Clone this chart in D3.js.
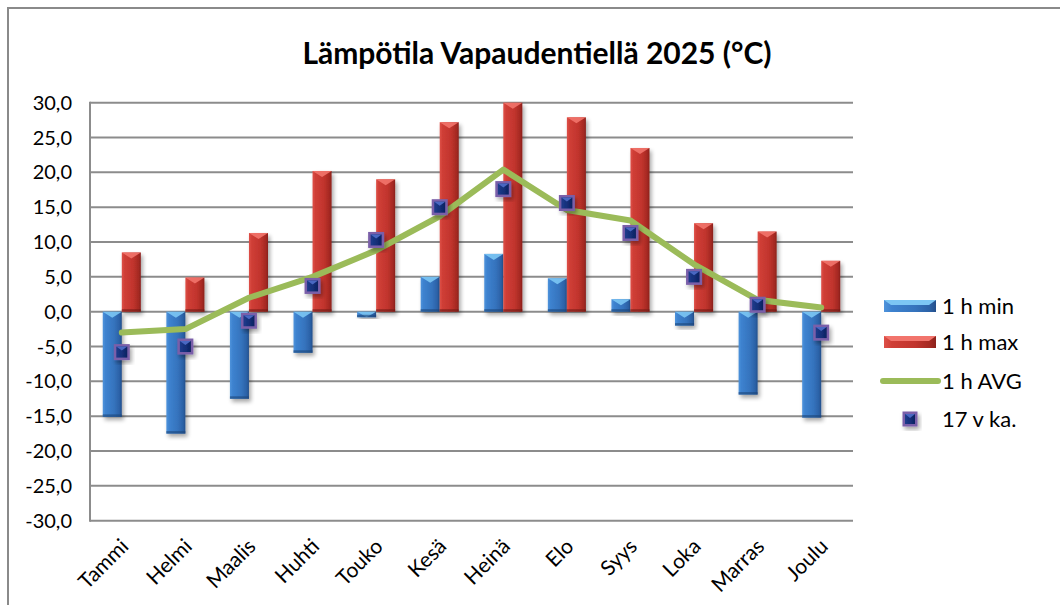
<!DOCTYPE html>
<html>
<head>
<meta charset="utf-8">
<script src="https://cdn.jsdelivr.net/npm/d3@7"></script>
<style>
  html, body { margin: 0; padding: 0; background: #fff; }
  svg { display: block; font-family: Lato, "Open Sans", sans-serif; }
</style>
</head>
<body>
<svg id="chart" width="1060" height="605"></svg>
<script>
// Monthly temperatures (°C)
const months = ["Tammi", "Helmi", "Maalis", "Huhti", "Touko", "Kesä", "Heinä", "Elo", "Syys", "Loka", "Marras", "Joulu"];
const minTemp = [-15.1, -17.5, -12.5, -5.9, -0.8, 5.0, 8.3, 4.8, 1.8, -2.0, -11.9, -15.2];
const maxTemp = [8.5, 4.9, 11.3, 20.2, 19.0, 27.2, 30.0, 27.9, 23.5, 12.7, 11.5, 7.3];
const avgTemp = [-3.0, -2.5, 2.0, 5.0, 8.8, 13.7, 20.4, 14.6, 13.1, 6.8, 1.7, 0.6];
const longAvg = [-5.8, -5.0, -1.3, 3.7, 10.3, 15.0, 17.6, 15.6, 11.3, 5.0, 1.0, -3.0];
const yTicks = [30, 25, 20, 15, 10, 5, 0, -5, -10, -15, -20, -25, -30];
const seriesNames = ["1 h min", "1 h max", "1 h AVG", "17 v ka."];
const titleText = "Lämpötila Vapaudentiellä 2025 (°C)";

const svg = d3.select("#chart");
const plot = { left: 90, right: 853, top: 102.7, bottom: 520.7 };

const fi = d3.formatLocale({ decimal: ",", thousands: " ", grouping: [3], currency: ["", "€"], minus: "-" });
const fmt = fi.format(".1f");

const x = d3.scaleBand().domain(months).range([plot.left, plot.right]).padding(0);
const xs = d3.scaleBand().domain(["min", "max"]).range([0, x.bandwidth()]).paddingInner(0).paddingOuter(0.67);
const y = d3.scaleLinear().domain([-30, 30]).range([plot.bottom, plot.top]);

// gradients and shadow
const defs = svg.append("defs");
function hGrad(id, stops) {
  const g = defs.append("linearGradient").attr("id", id).attr("x1", 0).attr("x2", 1).attr("y1", 0).attr("y2", 0);
  stops.forEach(([o, c]) => g.append("stop").attr("offset", o).attr("stop-color", c));
}
hGrad("gBlue", [[0, "#4f93db"], [0.15, "#3d82cf"], [0.6, "#3573bd"], [0.88, "#2b61a6"], [1, "#244f8a"]]);
hGrad("gRed", [[0, "#de5048"], [0.15, "#cf3e36"], [0.6, "#c1342d"], [0.88, "#a52922"], [1, "#8a211c"]]);
hGrad("gNavy", [[0, "#1f3b8c"], [0.5, "#14307a"], [1, "#0d2260"]]);
const sh = defs.append("filter").attr("id", "shadow").attr("x", "-30%").attr("y", "-30%").attr("width", "160%").attr("height", "160%");
sh.append("feGaussianBlur").attr("in", "SourceAlpha").attr("stdDeviation", 2);
sh.append("feOffset").attr("dx", 1.5).attr("dy", 3).attr("result", "o");
sh.append("feComponentTransfer").append("feFuncA").attr("type", "linear").attr("slope", 0.35);
const m = sh.append("feMerge");
m.append("feMergeNode");
m.append("feMergeNode").attr("in", "SourceGraphic");

// outer frame
svg.append("rect").attr("x", 8).attr("y", 8).attr("width", 1200).attr("height", 800)
  .attr("fill", "none").attr("stroke", "#8a8a8a").attr("stroke-width", 2);

// title
svg.append("text").attr("x", 537).attr("y", 64).attr("text-anchor", "middle")
  .attr("font-size", 30).attr("font-weight", 700).attr("fill", "#000").text(titleText);

// gridlines
svg.append("g").selectAll("line").data(yTicks).join("line")
  .attr("x1", plot.left).attr("x2", plot.right)
  .attr("y1", d => y(d)).attr("y2", d => y(d))
  .attr("stroke", "#8c8c8c").attr("stroke-width", 2);
svg.append("line").attr("x1", plot.left).attr("x2", plot.left)
  .attr("y1", plot.top - 1).attr("y2", plot.bottom + 1)
  .attr("stroke", "#8c8c8c").attr("stroke-width", 2);

// y labels
svg.append("g").selectAll("text").data(yTicks).join("text")
  .attr("x", 72).attr("y", d => y(d)).attr("dy", "0.35em").attr("text-anchor", "end")
  .attr("font-size", 20).attr("fill", "#000").text(d => fmt(d));

// x labels
svg.append("g").selectAll("text").data(months).join("text")
  .attr("transform", d => `translate(${x(d) + x.bandwidth() / 2 + 8},${plot.bottom + 27}) rotate(-45)`)
  .attr("text-anchor", "end").attr("font-size", 21).attr("fill", "#000").text(d => d);

// bevelled bar
function bar(g, x0, w, v, fill, light, dark) {
  const yt = y(Math.max(0, v)), yb = y(Math.min(0, v));
  const h = yb - yt;
  const grp = g.append("g").attr("filter", "url(#shadow)");
  grp.append("rect").attr("x", x0).attr("y", yt).attr("width", w).attr("height", h).attr("fill", fill);
  const th = Math.min(6, h);
  grp.append("path").attr("d", `M${x0},${yt}L${x0 + w},${yt}L${x0 + w / 2},${yt + th}Z`).attr("fill", light).attr("opacity", 0.9);
  const bh = Math.min(2.5, h);
  grp.append("rect").attr("x", x0).attr("y", yb - bh).attr("width", w).attr("height", bh).attr("fill", dark).attr("opacity", 0.6);
}
const bars = svg.append("g");
months.forEach((mo, i) => {
  bar(bars, x(mo) + xs("min"), xs.bandwidth(), minTemp[i], "url(#gBlue)", "#7cc6f4", "#1d4577");
  bar(bars, x(mo) + xs("max"), xs.bandwidth(), maxTemp[i], "url(#gRed)", "#f2746c", "#6e1a16");
});

// average line
const cx = d => x(d) + x.bandwidth() / 2;
svg.append("path").datum(avgTemp)
  .attr("d", d3.line().x((d, i) => cx(months[i])).y(d => y(d)))
  .attr("fill", "none").attr("stroke", "#9bbb59").attr("stroke-width", 6)
  .attr("stroke-linecap", "round").attr("stroke-linejoin", "round");

// square markers
function marker(g, mx, my, s) {
  const grp = g.append("g").attr("filter", "url(#shadow)");
  grp.append("rect").attr("x", mx - s / 2).attr("y", my - s / 2).attr("width", s).attr("height", s).attr("fill", "#7a5fa9");
  const i = s / 2 - 2.5;
  grp.append("rect").attr("x", mx - i).attr("y", my - i).attr("width", 2 * i).attr("height", 2 * i).attr("fill", "url(#gNavy)");
  grp.append("path").attr("d", `M${mx - i},${my - i}L${mx + i},${my - i}L${mx},${my - i + 4}Z`).attr("fill", "#4a67c2");
}
const marks = svg.append("g");
longAvg.forEach((v, i) => marker(marks, cx(months[i]), y(v), 16));

// legend
const lg = svg.append("g");
const rows = [306, 342, 381, 419];
lg.append("rect").attr("x", 884).attr("y", 300).attr("width", 52).attr("height", 12).attr("fill", "url(#gBlue)");
lg.append("path").attr("d", "M884,300L936,300L929,305L891,305Z").attr("fill", "#7cc6f4");
lg.append("rect").attr("x", 884).attr("y", 336).attr("width", 52).attr("height", 12).attr("fill", "url(#gRed)");
lg.append("path").attr("d", "M884,336L936,336L929,341L891,341Z").attr("fill", "#f2746c");
lg.append("line").attr("x1", 883).attr("x2", 938).attr("y1", rows[2]).attr("y2", rows[2])
  .attr("stroke", "#9bbb59").attr("stroke-width", 6).attr("stroke-linecap", "round");
marker(lg, 910, rows[3], 15);
lg.selectAll("text").data(seriesNames).join("text")
  .attr("x", 942).attr("y", (d, i) => rows[i]).attr("dy", "0.35em")
  .attr("font-size", 22).attr("fill", "#000").text(d => d);
</script>
</body>
</html>
